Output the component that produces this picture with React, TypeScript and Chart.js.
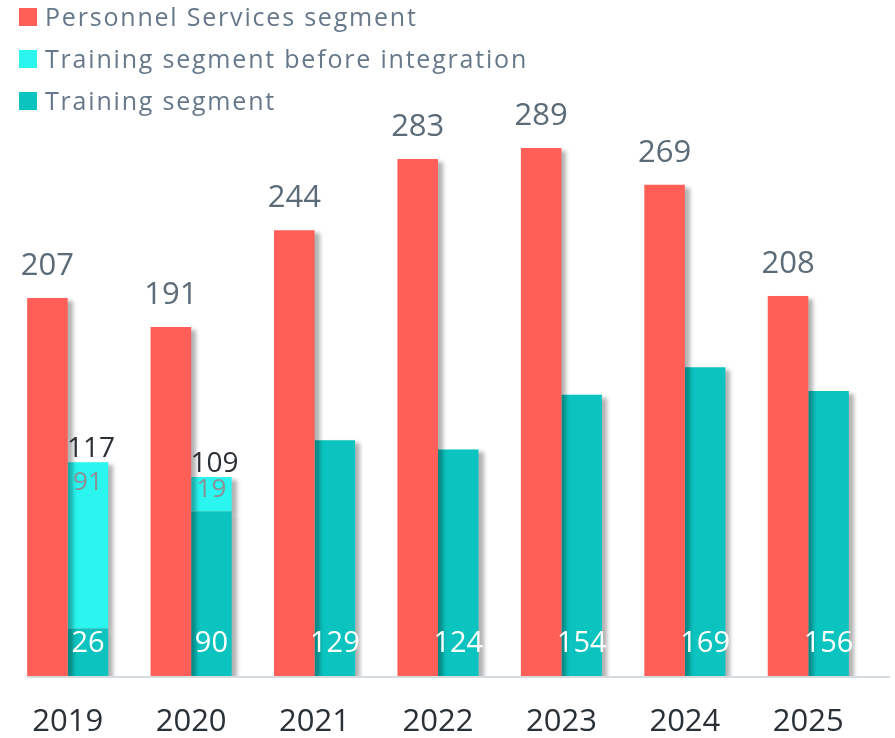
import React, { useEffect, useRef } from "react";
import { Chart, registerables } from "chart.js";

Chart.register(...registerables);

const categories = ["2019", "2020", "2021", "2022", "2023", "2024", "2025"];
const personnelServices = [207, 191, 244, 283, 289, 269, 208];
const trainingSegment = [26, 90, 129, 124, 154, 169, 156];
const trainingBeforeIntegration = [91, 19, null, null, null, null, null];

const seriesLabels = [
  "Personnel Services segment",
  "Training segment before integration",
  "Training segment",
];

const RED = "#FF5F57";
const CYAN = "#2AF5EF";
const TEAL = "#0BC4BF";
const FONT = "'Open Sans', sans-serif";

const shadowPlugin = {
  id: "barShadow",
  beforeDatasetsDraw(chart: any) {
    const ctx = chart.ctx;
    const { chartArea } = chart;
    const meta0 = chart.getDatasetMeta(0);
    const first = meta0.data[0];
    ctx.save();
    ctx.strokeStyle = "#d6dbe0";
    ctx.lineWidth = 2;
    ctx.beginPath();
    ctx.moveTo(first.x - first.width / 2, chartArea.bottom + 1);
    ctx.lineTo(890, chartArea.bottom + 1);
    ctx.stroke();
    ctx.restore();
    ctx.save();
    ctx.shadowColor = "rgba(0,0,0,0.3)";
    ctx.shadowOffsetX = 5;
    ctx.shadowOffsetY = 3;
    ctx.shadowBlur = 4;
  },
  afterDatasetsDraw(chart: any) {
    chart.ctx.restore();
  },
};

const legendPlugin = {
  id: "customLegend",
  afterDraw(chart: any) {
    const ctx = chart.ctx;
    const colors = [RED, CYAN, TEAL];
    ctx.save();
    ctx.font = `25px ${FONT}`;
    (ctx as any).letterSpacing = "1.8px";
    ctx.textBaseline = "alphabetic";
    ctx.textAlign = "left";
    for (let i = 0; i < 3; i++) {
      const top = 8 + i * 42;
      ctx.fillStyle = colors[i];
      ctx.fillRect(19, top, 18, 18);
      ctx.fillStyle = "#66788a";
      ctx.fillText(seriesLabels[i], 45, top + 18);
    }
    ctx.restore();
  },
};

const labelPlugin = {
  id: "valueLabels",
  afterDatasetsDraw(chart: any) {
    const ctx = chart.ctx;
    ctx.save();
    ctx.textAlign = "center";
    ctx.textBaseline = "alphabetic";
    const mRed = chart.getDatasetMeta(0);
    const mTeal = chart.getDatasetMeta(1);
    const mCyan = chart.getDatasetMeta(2);
    categories.forEach((_, i) => {
      const r = mRed.data[i];
      ctx.font = `31px ${FONT}`;
      ctx.fillStyle = "#5b6b78";
      ctx.fillText(String(personnelServices[i]), r.x, r.y - 23);

      const t = mTeal.data[i];
      ctx.font = `29px ${FONT}`;
      ctx.fillStyle = "#ffffff";
      ctx.fillText(String(trainingSegment[i]), t.x, t.base - 24);

      const before = trainingBeforeIntegration[i];
      if (before != null) {
        const c = mCyan.data[i];
        const h = c.base - c.y;
        ctx.font = `26px ${FONT}`;
        ctx.fillStyle = "#8a9096";
        ctx.fillText(String(before), c.x, c.y + Math.min(28, h * 0.57));
        ctx.font = `28px ${FONT}`;
        ctx.fillStyle = "#2b3035";
        ctx.fillText(String(before + trainingSegment[i]), c.x + 3, c.y - 5);
      }
    });
    ctx.restore();
  },
};

export default function App() {
  const ref = useRef<HTMLCanvasElement | null>(null);
  useEffect(() => {
    if (!ref.current) return;
    const chart = new Chart(ref.current, {
      type: "bar",
      data: {
        labels: categories,
        datasets: [
          {
            label: seriesLabels[0],
            data: personnelServices,
            backgroundColor: RED,
            stack: "a",
          },
          {
            label: seriesLabels[2],
            data: trainingSegment,
            backgroundColor: TEAL,
            stack: "b",
          },
          {
            label: seriesLabels[1],
            data: trainingBeforeIntegration,
            backgroundColor: CYAN,
            stack: "b",
          },
        ],
      },
      options: {
        animation: false,
        responsive: false,
        maintainAspectRatio: false,
        datasets: {
          bar: { barPercentage: 1, categoryPercentage: 0.657, borderWidth: 0 },
        },
        layout: { padding: { top: 128, left: 6, right: 25, bottom: 0 } },
        plugins: {
          legend: { display: false },
          tooltip: { enabled: false },
        },
        scales: {
          x: {
            stacked: true,
            grid: { display: false, drawTicks: false },
            border: { display: false },
            ticks: {
              color: "#2a3036",
              font: { family: FONT, size: 31 },
              padding: 28,
            },
            afterFit(scale: any) {
              scale.height = 62;
            },
          },
          y: {
            stacked: true,
            display: false,
            min: 0,
            max: 300,
          },
        },
      },
      plugins: [shadowPlugin, labelPlugin, legendPlugin],
    });
    return () => chart.destroy();
  }, []);
  return (
    <div style={{ position: "fixed", left: 0, top: 0, width: 895, height: 738, background: "#fff" }}>
      <canvas ref={ref} width={895} height={738} style={{ display: "block" }} />
    </div>
  );
}
